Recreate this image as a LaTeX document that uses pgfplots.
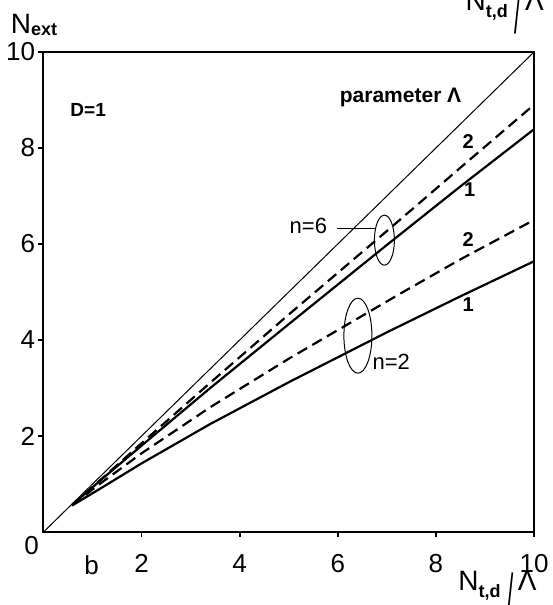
\documentclass[border=0pt]{standalone}
\usepackage{fontspec}
\setmainfont{Liberation Sans}
\usepackage{pgfplots}
\pgfplotsset{compat=1.18}
\usetikzlibrary{calc}

\newcommand{\tickfont}{\fontsize{13}{13}\selectfont}
\newcommand{\bigN}{{\fontsize{14}{14}\selectfont N}}
\newcommand{\axlabel}{\bigN\raisebox{-3.5pt}{\fontsize{9}{9}\selectfont\bfseries t,d}\hspace{3.5pt}\raisebox{-11.5pt}{\scalebox{0.8}[2.0]{\fontsize{14}{14}\selectfont /}}\hspace{2pt}{\fontsize{14}{14}\selectfont Λ}}

\begin{document}
\begin{tikzpicture}
\begin{axis}[
  width=245.25pt, height=240pt, scale only axis,
  xmin=0, xmax=10, ymin=0, ymax=10,
  axis line style={line width=1pt},
  xtick={2,4,6,8,10}, ytick={2,4,6,8,10},
  xtick pos=left, ytick pos=left,
  tick align=outside, major tick length=2.5pt,
  tick style={line width=0.8pt, black},
  /pgf/number format/assume math mode=true,
  ticklabel style={font=\tickfont, inner sep=0pt},
  xticklabel style={anchor=north, yshift=-8.5pt},
  yticklabel style={anchor=east, xshift=-1.5pt},
  clip=false,
]
% thin diagonal
\addplot[black, line width=0.5pt] coordinates {(0,0)(10,10)};
% n=6, parameter 2 (dashed) and 1 (solid)
\addplot[black, line width=1.1pt, dash pattern=on 5.5pt off 3pt] coordinates {
(0.58,0.56)(1.2,1.12)(2,1.85)(3.4,3.11)(5,4.53)(7,6.27)(8.5,7.59)(10,8.9)};
\addplot[black, line width=1.1pt] coordinates {
(0.58,0.56)(1.2,1.11)(2,1.8)(3.4,3.0)(5,4.33)(7,5.98)(8.5,7.2)(10,8.39)};
% n=2, parameter 2 (dashed) and 1 (solid)
\addplot[black, line width=1.1pt, dash pattern=on 5.5pt off 3pt] coordinates {
(0.58,0.56)(1.2,1.04)(2,1.64)(3.4,2.6)(5,3.61)(7.28,4.97)(8.5,5.68)(10,6.5)};
\addplot[black, line width=1.1pt] coordinates {
(0.58,0.55)(1.2,0.93)(2,1.43)(3.4,2.25)(5,3.12)(7,4.16)(8.5,4.91)(10,5.64)};

% ellipses and labels
\draw[line width=0.5pt] (axis cs:6.95,6.08) ellipse [x radius=5pt, y radius=12.5pt];
\draw[line width=0.5pt] (axis cs:6.41,4.09) ellipse [x radius=7pt, y radius=18.75pt];
\draw[line width=0.5pt] (axis cs:5.99,6.33) -- (axis cs:6.77,6.33);
\node[font=\fontsize{11}{11}\selectfont] at (axis cs:5.4,6.37) {n=6};
\node[font=\fontsize{11}{11}\selectfont, anchor=west, inner sep=0pt] at (axis cs:6.70,3.54) {n=2};

\node[font=\fontsize{10}{10}\selectfont\bfseries] at (axis cs:8.66,8.14) {2};
\node[font=\fontsize{10}{10}\selectfont\bfseries] at (axis cs:8.69,7.14) {1};
\node[font=\fontsize{10}{10}\selectfont\bfseries] at (axis cs:8.66,6.10) {2};
\node[font=\fontsize{10}{10}\selectfont\bfseries] at (axis cs:8.66,4.73) {1};

\node[font=\fontsize{10.5}{10.5}\selectfont\bfseries] at (axis cs:7.28,9.05) {parameter Λ};
\node[font=\fontsize{9.5}{9.5}\selectfont\bfseries] at (axis cs:0.91,8.79) {D=1};

% origin, panel letter, axis labels
\node[font=\tickfont, inner sep=0pt] at ($(rel axis cs:0,0)+(-6pt,-7pt)$) {0};
\node[font=\tickfont, inner sep=0pt] at ($(axis cs:0.98,0)+(0,-16.75pt)$) {b};
\node[anchor=base west, inner sep=0pt] at ($(rel axis cs:0,1)+(-16.45pt,9.25pt)$)
  {\bigN\raisebox{-1pt}{\fontsize{9}{9}\selectfont\bfseries ext}};
\node[anchor=base west, inner sep=0pt] at ($(axis cs:8.45,0)+(0,-29pt)$) {\axlabel};
\node[anchor=base west, inner sep=0pt] at ($(axis cs:8.6,10)+(0,20.75pt)$) {\axlabel};

\coordinate (bl) at (rel axis cs:0,0);
\coordinate (tr) at (rel axis cs:1,1);
\end{axis}
\pgfresetboundingbox
\path[use as bounding box] ($(bl)+(-21.75pt,-36.5pt)$) rectangle ($(tr)+(9pt,26pt)$);
\end{tikzpicture}
\end{document}
